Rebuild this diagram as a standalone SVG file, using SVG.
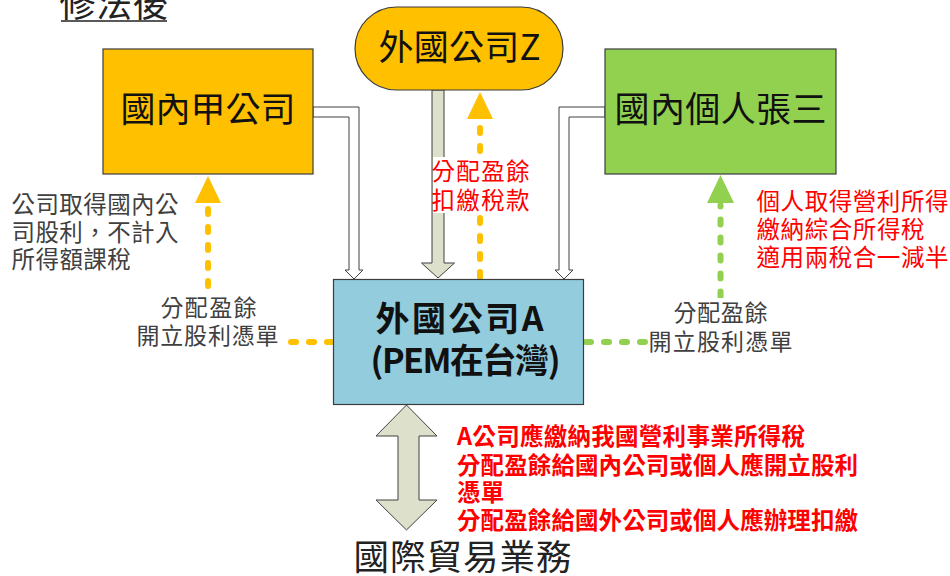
<svg xmlns="http://www.w3.org/2000/svg" width="950" height="576" viewBox="0 0 950 576">
<defs>
<style>
text{font-family:"Noto Sans CJK TC","Noto Sans CJK JP",sans-serif}
.box{stroke:#3c3c3c;stroke-width:1.2}
.big{font-size:35px;fill:#111}
.bold{font-size:34px;font-weight:bold;fill:#111}
.lbl{font-size:23px;fill:#404040}
.note{font-size:23.5px;fill:#404040}
.red{font-size:23.5px;fill:#ff0000}
.redb{font-size:23.5px;fill:#ff0000;font-weight:bold}
.dy{fill:none;stroke:#FFC000;stroke-width:6;stroke-linecap:round;stroke-dasharray:5 13}
.dg{fill:none;stroke:#92D050;stroke-width:6;stroke-linecap:round;stroke-dasharray:5 13}
.hollow{fill:#fff;stroke:#404040;stroke-width:1}
.grey{fill:#DDE0CA;stroke:#404040;stroke-width:1}
.bg{fill:#fff}
</style>
</defs>
<rect width="950" height="576" fill="#fff"/>

<g id="title">
<text x="59.5" y="16.5" font-size="36" fill="#222" textLength="109" lengthAdjust="spacing">修法後</text>
<line x1="61" y1="21" x2="167" y2="21" stroke="#222" stroke-width="1.5"/>
</g>

<g id="connectors">
<polygon class="hollow" points="313,107 359,107 359,270 363,270 354,279 345,270 349,270 349,117 313,117"/>
<polygon class="hollow" points="605,107 559,107 559,270 555,270 564,279 573,270 569,270 569,117 605,117"/>
<polygon class="grey" points="432,90 444,90 444,263 454.5,263 438,278 421.5,263 432,263"/>
<path class="dy" d="M480,277 V121"/>
<polygon fill="#FFC000" points="467,119 493,119 480,92"/>
<path class="dy" d="M332,342 H208 V205"/>
<polygon fill="#FFC000" points="195,203 221,203 208,176"/>
<path class="dg" d="M586,342 H720.5 V205"/>
<polygon fill="#92D050" points="707,203 734,203 720.5,175"/>
<polygon class="grey" points="406.5,405 437,436 419,436 419,500 437,500 406.5,530 376,500 398,500 398,436 376,436"/>
<rect class="bg" x="433" y="157" width="97" height="56"/>
<text class="red" x="431.5" y="180" textLength="98" lengthAdjust="spacing">分配盈餘</text>
<text class="red" x="431.5" y="209" textLength="98" lengthAdjust="spacing">扣繳稅款</text>
<rect class="bg" x="135" y="293" width="151" height="58"/>
<text class="lbl" x="160.5" y="316" textLength="96" lengthAdjust="spacing">分配盈餘</text>
<text class="lbl" x="136.5" y="344" textLength="142" lengthAdjust="spacing">開立股利憑單</text>
<rect class="bg" x="649" y="298" width="146" height="58"/>
<text class="lbl" x="673.5" y="321" textLength="94" lengthAdjust="spacing">分配盈餘</text>
<text class="lbl" x="648.5" y="350" textLength="144" lengthAdjust="spacing">開立股利憑單</text>
</g>

<g id="companyJia">
<rect class="box" x="103" y="49" width="210" height="125" fill="#FFC000"/>
<text class="big" x="120.5" y="122" textLength="175" lengthAdjust="spacing">國內甲公司</text>
</g>

<g id="companyZ">
<rect class="box" x="355" y="7" width="208" height="83" rx="41.5" fill="#FFC000"/>
<text class="big" x="378.5" y="60" textLength="162" lengthAdjust="spacing">外國公司Z</text>
</g>

<g id="personZhang">
<rect class="box" x="605" y="49" width="231" height="125" fill="#92D050"/>
<text class="big" x="614.5" y="122" textLength="212" lengthAdjust="spacing">國內個人張三</text>
</g>

<g id="companyA">
<rect class="box" x="333.5" y="279.5" width="250" height="125" fill="#93CDDD"/>
<text class="bold" x="375.5" y="331" textLength="168" lengthAdjust="spacing">外國公司A</text>
<text class="bold" x="370.5" y="373" textLength="190" lengthAdjust="spacing">(PEM在台灣)</text>
</g>

<g id="noteJia">
<text class="note" x="11.5" y="213" textLength="167" lengthAdjust="spacing">公司取得國內公</text>
<text class="note" x="11.5" y="240.5" textLength="167" lengthAdjust="spacing">司股利，不計入</text>
<text class="note" x="11.5" y="267.5" textLength="119.3" lengthAdjust="spacing">所得額課稅</text>
</g>

<g id="noteZhang">
<text class="red" x="756.5" y="210" textLength="192" lengthAdjust="spacing">個人取得營利所得</text>
<text class="red" x="756.5" y="237.5" textLength="168" lengthAdjust="spacing">繳納綜合所得稅</text>
<text class="red" x="756.5" y="265.5" textLength="192" lengthAdjust="spacing">適用兩稅合一減半</text>
</g>

<g id="noteA">
<text class="redb" x="457" y="445" textLength="348" lengthAdjust="spacing">A公司應繳納我國營利事業所得稅</text>
<text class="redb" x="457" y="474" textLength="401" lengthAdjust="spacing">分配盈餘給國內公司或個人應開立股利</text>
<text class="redb" x="457" y="500.5" textLength="47.2" lengthAdjust="spacing">憑單</text>
<text class="redb" x="457" y="529" textLength="401" lengthAdjust="spacing">分配盈餘給國外公司或個人應辦理扣繳</text>
</g>

<g id="trade">
<text x="353.5" y="570" font-size="35.5" fill="#222" textLength="218" lengthAdjust="spacing">國際貿易業務</text>
</g>
</svg>
